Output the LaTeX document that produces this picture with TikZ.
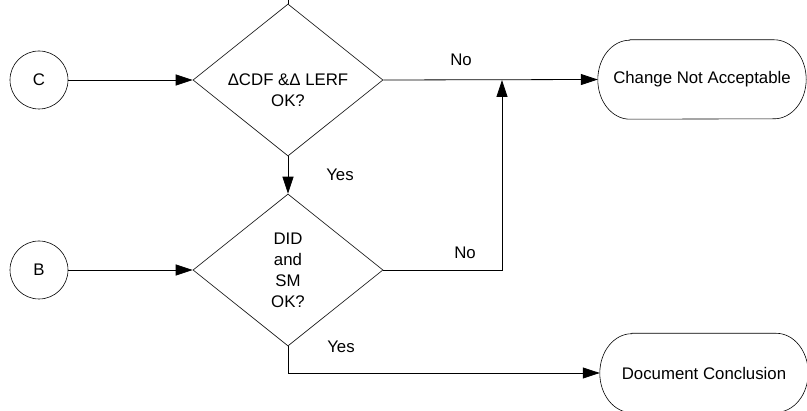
\documentclass[tikz,border=0pt]{standalone}
\usepackage{fontspec}
\setmainfont{Liberation Sans}
\usetikzlibrary{shapes.geometric,arrows.meta}
\begin{document}
\begin{tikzpicture}[x=1pt,y=-1pt,
  font=\fontsize{16.8pt}{21pt}\selectfont,
  line/.style={line width=0.8pt, draw=black},
  arr/.style={line, -{Triangle[length=17pt,width=11pt]}},
  outline/.style={draw=black, line width=0.6pt},
  decision/.style={diamond, outline, minimum width=190pt, minimum height=152pt, inner sep=0pt, align=center},
  conn/.style={circle, outline, minimum size=58pt, inner sep=0pt},
  termbox/.style={minimum width=208pt, minimum height=79pt, inner sep=0pt},
  lbl/.style={inner sep=0pt}]
\useasboundingbox (0,0) rectangle (807,411);
% nodes
\node[conn] (c) at (39,80) {C};
\node[conn] (b) at (39,270) {B};
\node[decision] (d1) at (288,80) {};
\node[lbl, align=center] (t1) at (288,90) {ΔCDF \&Δ LERF\\OK?};
\node[decision] (d2) at (288,270) {DID\\and\\SM\\OK?};
\node[termbox] (cna) at (702,79.5) {Change Not Acceptable};
\node[termbox] (dc) at (704,373) {Document Conclusion};
% terminal outlines
\foreach \n in {cna,dc}{
  \draw[outline] ([xshift=32pt]\n.north west) -- ([xshift=-32pt]\n.north east)
    arc[start angle=90,end angle=-90,x radius=32pt,y radius=39.5pt]
    -- ([xshift=32pt]\n.south west)
    arc[start angle=270,end angle=90,x radius=32pt,y radius=39.5pt] -- cycle;
}
% connectors
\coordinate (in) at (288,0);
\coordinate (j) at (502,80);
\draw[line] (in) -- (d1.north);
\draw[arr] (c) -- (d1.west);
\draw[arr] (b) -- (d2.west);
\draw[arr] (d1.south) -- (d2.north);
\draw[arr] (d1.east) -- (cna.west);
\draw[arr] (d2.east) -| (j);
\draw[arr] (d2.south) |- (dc.west);
% labels
\node[lbl] (no1) at (461,60) {No};
\node[lbl] (yes1) at (340,175) {Yes};
\node[lbl] (no2) at (465,253) {No};
\node[lbl] (yes2) at (341,347) {Yes};
\end{tikzpicture}
\end{document}
